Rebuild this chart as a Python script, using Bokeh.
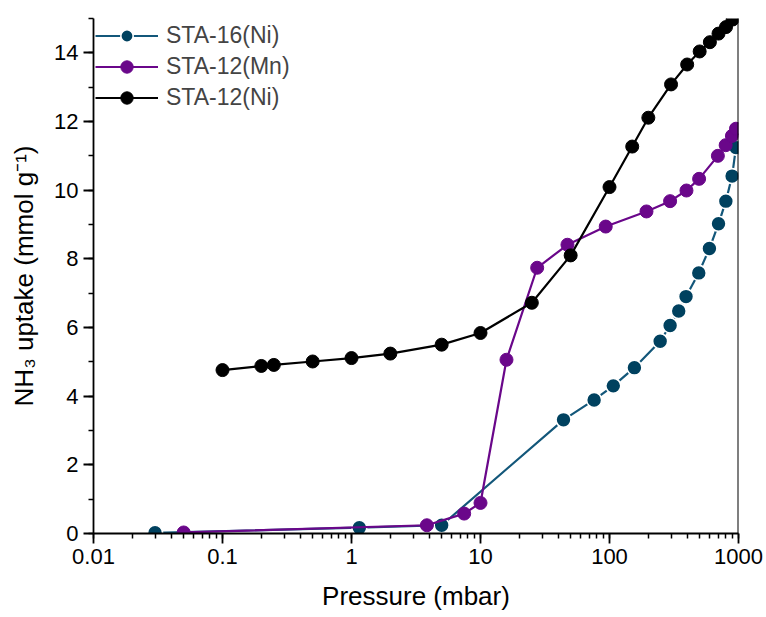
from bokeh.plotting import figure
from bokeh.models import Range1d, Span, SingleIntervalTicker, CustomJSTickFormatter, Legend, LegendItem
from bokeh.embed import file_html
from bokeh.resources import INLINE

# ---- data ----
sta16_ni_p = [0.03, 1.15, 5.0, 44, 76, 107, 156, 247, 295, 344, 392, 492, 595, 700, 798, 892, 955]
sta16_ni_y = [0.02, 0.17, 0.24, 3.31, 3.89, 4.30, 4.83, 5.60, 6.06, 6.48, 6.90, 7.59, 8.30, 9.02, 9.68, 10.41, 11.24]

sta12_mn_p = [0.05, 3.84, 7.47, 10, 15.9, 27.5, 47.2, 93.5, 193.5, 295, 395, 495, 692, 795, 889, 956]
sta12_mn_y = [0.03, 0.24, 0.58, 0.89, 5.06, 7.74, 8.41, 8.94, 9.38, 9.68, 9.99, 10.33, 11.00, 11.31, 11.58, 11.79]

sta12_ni_p = [0.1, 0.2, 0.25, 0.5, 1, 2, 5, 10, 25, 50, 100, 150, 200, 300, 400, 500, 600, 700, 800, 900]
sta12_ni_y = [4.76, 4.88, 4.91, 5.01, 5.11, 5.24, 5.50, 5.84, 6.72, 8.10, 10.09, 11.27, 12.11, 13.08,
              13.66, 14.04, 14.31, 14.56, 14.75, 14.97]

labels = ["STA-16(Ni)", "STA-12(Mn)", "STA-12(Ni)"]
x_label = "Pressure (mbar)"
y_label = "NH\u2083 uptake (mmol g\u207b\u00b9)"

FONT = "Liberation Sans"

p = figure(frame_width=645, frame_height=515, x_axis_type="log",
           x_range=Range1d(0.01, 1000), y_range=Range1d(0, 15),
           output_backend="svg", toolbar_location=None,
           min_border_left=93, min_border_right=28, min_border_top=18, min_border_bottom=84)
p.outline_line_color = None
p.grid.visible = False
p.background_fill_color = "white"
p.border_fill_color = "white"

teal_line = "#13577a"
teal_mark = "#00415f"
purple = "#6a078a"
black = "#000000"

r1l = p.line(sta16_ni_p, sta16_ni_y, line_color=teal_line, line_width=2.2)
r1s = p.scatter(sta16_ni_p, sta16_ni_y, size=15, fill_color=teal_mark, line_color="white", line_width=1.6)
r2l = p.line(sta12_mn_p, sta12_mn_y, line_color=purple, line_width=2.2)
r2s = p.scatter(sta12_mn_p, sta12_mn_y, size=13, fill_color=purple, line_color=purple, line_width=1)
r3l = p.line(sta12_ni_p, sta12_ni_y, line_color=black, line_width=2.2)
r3s = p.scatter(sta12_ni_p, sta12_ni_y, size=13, fill_color=black, line_color=black, line_width=1)

legend = Legend(items=[LegendItem(label=labels[0], renderers=[r1l, r1s]),
                       LegendItem(label=labels[1], renderers=[r2l, r2s]),
                       LegendItem(label=labels[2], renderers=[r3l, r3s])],
                location="top_left", border_line_color=None, background_fill_alpha=0,
                label_text_font=FONT, label_text_font_size="23px", glyph_width=63, glyph_height=31,
                label_height=31, spacing=0, padding=3, margin=2, label_standoff=8)
p.add_layout(legend)

p.add_layout(Span(location=1000, dimension="height", line_color="black", line_width=2))

for ax in (p.xaxis[0], p.yaxis[0]):
    ax.axis_line_width = 1.8
    ax.major_tick_line_width = 1.8
    ax.minor_tick_line_width = 1.5
    ax.major_tick_out = 10
    ax.major_tick_in = 0
    ax.minor_tick_out = 5
    ax.minor_tick_in = 0
    ax.major_label_text_font = FONT
    ax.major_label_text_font_size = "22px"
    ax.major_label_text_color = "black"
    ax.axis_label_text_font = FONT
    ax.axis_label_text_font_size = "26px"
    ax.axis_label_text_font_style = "normal"
    ax.axis_label_text_color = "black"

p.xaxis.axis_label = x_label
p.yaxis.axis_label = y_label
p.xaxis.major_label_standoff = 5
p.xaxis.axis_label_standoff = 14
p.yaxis.major_label_standoff = 5
p.yaxis.axis_label_standoff = 12
p.yaxis.ticker = SingleIntervalTicker(interval=2, num_minor_ticks=2)
p.xaxis.formatter = CustomJSTickFormatter(code="""
const v = Number(tick.toPrecision(6));
return v.toString();
""")

open("out.html", "w").write(file_html(p, INLINE))
